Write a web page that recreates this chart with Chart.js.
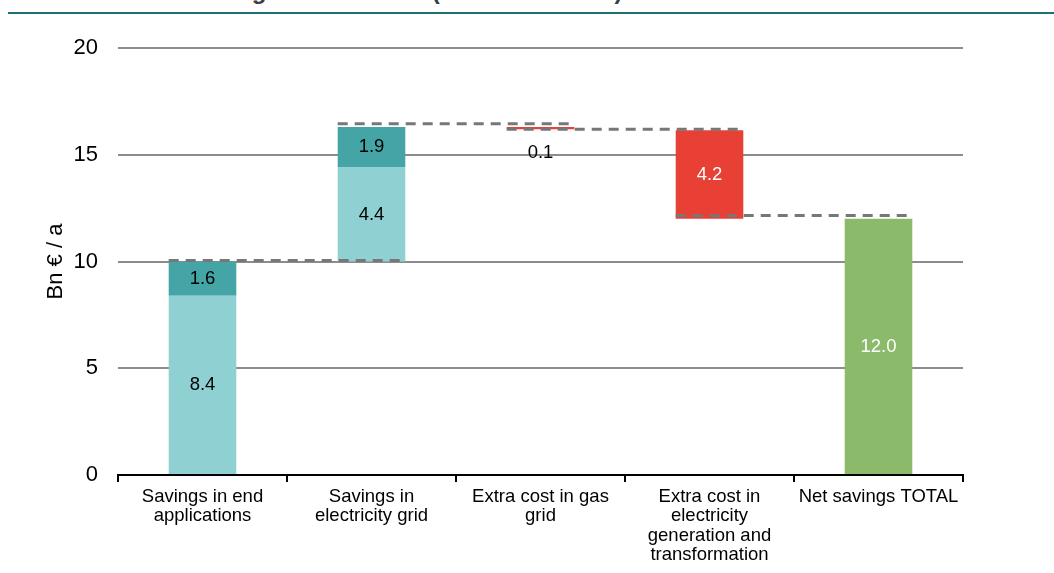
<!DOCTYPE html>
<html>
<head>
<meta charset="utf-8">
<script src="https://cdn.jsdelivr.net/npm/chart.js@4.4.1/dist/chart.umd.min.js"></script>
<style>
  body { margin: 0; background: #fff; width: 1054px; height: 573px; overflow: hidden; position: relative; font-family: "Liberation Sans", Arial, sans-serif; }
  #titre { position: absolute; left: 145px; top: -23px; font-size: 24px; font-weight: bold; color: #3a3f44; white-space: nowrap; }
  #trait { position: absolute; left: 8px; right: 0; top: 12px; height: 2px; background: #1d6f78; }
  #box { position: absolute; left: 0; top: 0; width: 1054px; height: 573px; }
</style>
</head>
<body>
<div id="titre">Net savings in total 2050 (billion € overall)</div>
<div id="trait"></div>
<div id="box"><canvas id="waterfall"></canvas></div>
<script>
// categories et valeurs (Bn € / a)
const categories = [
  ['Savings in end', 'applications'],
  ['Savings in', 'electricity grid'],
  ['Extra cost in gas', 'grid'],
  ['Extra cost in', 'electricity', 'generation and', 'transformation'],
  'Net savings TOTAL'
];
const baseSavings  = [[0, 8.4], [10.0, 14.4], null, null, null];
const extraSavings = [[8.4, 10.0], [14.4, 16.3], null, null, null];
const extraCosts   = [null, null, [16.2, 16.3], [12.0, 16.15], null];
const netTotal     = [null, null, null, null, [0, 12.0]];
const valueLabels  = [['8.4', '1.6'], ['4.4', '1.9'], ['0.1'], ['4.2'], ['12.0']];
// niveaux des pointillés entre barres
const connectorLevels = [10.05, 16.45, 16.2, 12.15];
const yMin = 0, yMax = 20, yStep = 5;

const police = '"Liberation Sans", Arial, sans-serif';

// pointillés + étiquettes
const waterfallPlugin = {
  id: 'waterfallExtras',
  afterDatasetsDraw(chart) {
    const ctx = chart.ctx;
    const x = chart.scales.x, y = chart.scales.y;
    const w = chart.getDatasetMeta(0).data[0].width;

    ctx.save();
    ctx.strokeStyle = '#777777';
    ctx.lineWidth = 3;
    ctx.setLineDash([10, 7]);
    connectorLevels.forEach((lvl, i) => {
      const py = y.getPixelForValue(lvl);
      ctx.beginPath();
      ctx.moveTo(x.getPixelForValue(i) - w / 2, py);
      ctx.lineTo(x.getPixelForValue(i + 1) + w / 2, py);
      ctx.stroke();
    });
    ctx.setLineDash([]);

    ctx.font = '18.5px ' + police;
    ctx.textAlign = 'center';
    ctx.textBaseline = 'middle';
    const series = [baseSavings, extraSavings, extraCosts, netTotal];
    for (let i = 0; i < categories.length; i++) {
      let k = 0;
      series.forEach((s, d) => {
        const v = s[i];
        if (!v) return;
        const txt = valueLabels[i][k++];
        let py = y.getPixelForValue((v[0] + v[1]) / 2);
        let col = '#000';
        if (d === 2 && v[1] - v[0] < 0.5) {
          py = y.getPixelForValue(v[0]) + 24; // trop petit : sous la barre
        } else if (d >= 2) {
          col = '#fff';
        }
        ctx.fillStyle = col;
        ctx.fillText(txt, x.getPixelForValue(i), py);
      });
    }
    ctx.restore();
  }
};

new Chart(document.getElementById('waterfall'), {
  type: 'bar',
  data: {
    labels: categories,
    datasets: [
      { data: baseSavings, backgroundColor: '#8fd1d2' },
      { data: extraSavings, backgroundColor: '#45a5a6' },
      { data: extraCosts, backgroundColor: '#e84034' },
      { data: netTotal, backgroundColor: '#8bba6b' }
    ]
  },
  options: {
    responsive: true,
    maintainAspectRatio: false,
    animation: false,
    devicePixelRatio: 1,
    datasets: { bar: { grouped: false, categoryPercentage: 1, barPercentage: 0.4, borderWidth: 0 } },
    layout: { padding: { left: 0, right: 91, top: 48, bottom: 0 } },
    plugins: { legend: { display: false }, tooltip: { enabled: false } },
    scales: {
      x: {
        afterFit: s => { s.height = 98; },
        grid: { drawOnChartArea: false, drawTicks: true, tickLength: 7, color: '#000', lineWidth: 2, offset: true },
        border: { color: '#000', width: 2 },
        ticks: { color: '#000', font: { family: police, size: 18.5, lineHeight: 1.05 }, padding: 5, maxRotation: 0, autoSkip: false }
      },
      y: {
        min: yMin, max: yMax,
        afterFit: s => { s.width = 118; },
        grid: { color: '#8c8c8c', lineWidth: 2, drawTicks: false },
        border: { display: false },
        ticks: { stepSize: yStep, color: '#000', font: { family: police, size: 22 }, padding: 20 },
        title: { display: true, text: 'Bn € / a', color: '#000', font: { family: police, size: 22 }, padding: { top: 43, bottom: 0 } }
      }
    }
  },
  plugins: [waterfallPlugin]
});
</script>
</body>
</html>
